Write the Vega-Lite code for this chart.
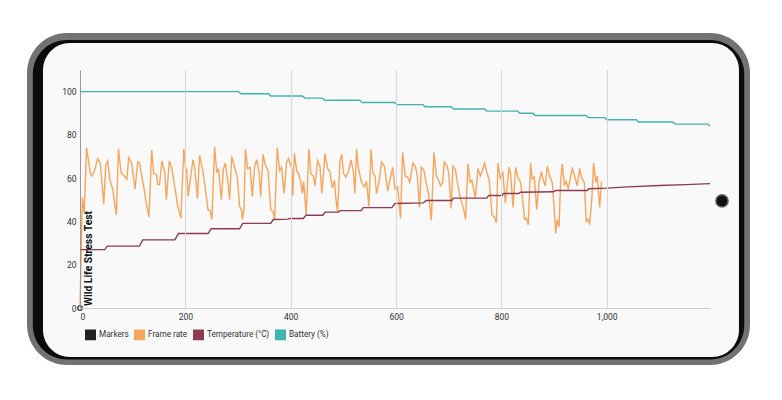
{
  "$schema": "https://vega.github.io/schema/vega-lite/v6.json",
  "width": 630,
  "height": 238,
  "autosize": {"type": "none"},
  "padding": {"left": 80, "top": 70, "right": 72, "bottom": 92},
  "background": "#ffffff",
  "config": {"view": {"stroke": null}, "font": "Roboto"},
  "datasets": {
    "series": [
      {"t":0,"v":0,"s":"Frame rate"},{"t":4.5,"v":51,"s":"Frame rate"},{"t":8,"v":44,"s":"Frame rate"},{"t":12.5,"v":74,"s":"Frame rate"},{"t":19.5,"v":62.5,"s":"Frame rate"},{"t":22,"v":61,"s":"Frame rate"},{"t":27,"v":63,"s":"Frame rate"},{"t":33.5,"v":69,"s":"Frame rate"},{"t":38.5,"v":67,"s":"Frame rate"},{"t":45,"v":48,"s":"Frame rate"},{"t":49,"v":66,"s":"Frame rate"},{"t":52.5,"v":68,"s":"Frame rate"},{"t":57,"v":59,"s":"Frame rate"},{"t":62,"v":55,"s":"Frame rate"},{"t":69,"v":43,"s":"Frame rate"},{"t":73,"v":73.5,"s":"Frame rate"},{"t":78,"v":62.5,"s":"Frame rate"},{"t":84,"v":61,"s":"Frame rate"},{"t":89,"v":59.5,"s":"Frame rate"},{"t":92.5,"v":69.5,"s":"Frame rate"},{"t":98,"v":67,"s":"Frame rate"},{"t":104.5,"v":55,"s":"Frame rate"},{"t":109.5,"v":67.5,"s":"Frame rate"},{"t":113,"v":67,"s":"Frame rate"},{"t":121,"v":56,"s":"Frame rate"},{"t":126,"v":48,"s":"Frame rate"},{"t":131,"v":42,"s":"Frame rate"},{"t":136,"v":73,"s":"Frame rate"},{"t":140,"v":62,"s":"Frame rate"},{"t":145,"v":62,"s":"Frame rate"},{"t":147.5,"v":57,"s":"Frame rate"},{"t":151,"v":57,"s":"Frame rate"},{"t":155.5,"v":68,"s":"Frame rate"},{"t":161,"v":62.5,"s":"Frame rate"},{"t":164,"v":50,"s":"Frame rate"},{"t":169.5,"v":68,"s":"Frame rate"},{"t":174,"v":65,"s":"Frame rate"},{"t":180,"v":56,"s":"Frame rate"},{"t":185.5,"v":47,"s":"Frame rate"},{"t":188,"v":45,"s":"Frame rate"},{"t":191.5,"v":41.5,"s":"Frame rate"},{"t":197,"v":73.5,"s":"Frame rate"},{"t":201,"v":63,"s":"Frame rate"},{"t":202.5,"v":64.5,"s":"Frame rate"},{"t":205,"v":51.5,"s":"Frame rate"},{"t":214.5,"v":68.5,"s":"Frame rate"},{"t":217.5,"v":65.5,"s":"Frame rate"},{"t":223,"v":50.5,"s":"Frame rate"},{"t":227,"v":70.5,"s":"Frame rate"},{"t":233.5,"v":63,"s":"Frame rate"},{"t":237.5,"v":56,"s":"Frame rate"},{"t":243,"v":45.5,"s":"Frame rate"},{"t":247,"v":45,"s":"Frame rate"},{"t":250.5,"v":41,"s":"Frame rate"},{"t":255.5,"v":74.5,"s":"Frame rate"},{"t":259.5,"v":63,"s":"Frame rate"},{"t":263,"v":64,"s":"Frame rate"},{"t":268.5,"v":50,"s":"Frame rate"},{"t":272,"v":64,"s":"Frame rate"},{"t":276,"v":67,"s":"Frame rate"},{"t":281,"v":58,"s":"Frame rate"},{"t":284,"v":50,"s":"Frame rate"},{"t":288,"v":70,"s":"Frame rate"},{"t":293.5,"v":65,"s":"Frame rate"},{"t":299,"v":60,"s":"Frame rate"},{"t":303,"v":47,"s":"Frame rate"},{"t":306.5,"v":45.5,"s":"Frame rate"},{"t":308,"v":41,"s":"Frame rate"},{"t":311.5,"v":45.5,"s":"Frame rate"},{"t":314,"v":73.5,"s":"Frame rate"},{"t":318,"v":64.5,"s":"Frame rate"},{"t":323,"v":65,"s":"Frame rate"},{"t":327,"v":51.5,"s":"Frame rate"},{"t":331.5,"v":65.5,"s":"Frame rate"},{"t":335.5,"v":68.5,"s":"Frame rate"},{"t":340,"v":62.5,"s":"Frame rate"},{"t":343,"v":51.5,"s":"Frame rate"},{"t":347.5,"v":71,"s":"Frame rate"},{"t":352,"v":66,"s":"Frame rate"},{"t":357,"v":63.5,"s":"Frame rate"},{"t":362,"v":45.5,"s":"Frame rate"},{"t":366.5,"v":44.5,"s":"Frame rate"},{"t":369.5,"v":41,"s":"Frame rate"},{"t":374.5,"v":74,"s":"Frame rate"},{"t":379,"v":63.5,"s":"Frame rate"},{"t":382.5,"v":65,"s":"Frame rate"},{"t":387.5,"v":53,"s":"Frame rate"},{"t":392,"v":67.5,"s":"Frame rate"},{"t":396,"v":69,"s":"Frame rate"},{"t":402,"v":64.5,"s":"Frame rate"},{"t":404,"v":52,"s":"Frame rate"},{"t":407,"v":71.5,"s":"Frame rate"},{"t":411.5,"v":63,"s":"Frame rate"},{"t":414.5,"v":62.5,"s":"Frame rate"},{"t":419.5,"v":58,"s":"Frame rate"},{"t":422,"v":53,"s":"Frame rate"},{"t":424.5,"v":58.5,"s":"Frame rate"},{"t":429.5,"v":43,"s":"Frame rate"},{"t":434.5,"v":73.5,"s":"Frame rate"},{"t":438.5,"v":62,"s":"Frame rate"},{"t":443,"v":61,"s":"Frame rate"},{"t":446,"v":56.5,"s":"Frame rate"},{"t":451,"v":68,"s":"Frame rate"},{"t":455.5,"v":65.5,"s":"Frame rate"},{"t":459,"v":53,"s":"Frame rate"},{"t":462,"v":61,"s":"Frame rate"},{"t":465,"v":71.5,"s":"Frame rate"},{"t":470,"v":64.5,"s":"Frame rate"},{"t":474.5,"v":63,"s":"Frame rate"},{"t":479,"v":55.5,"s":"Frame rate"},{"t":483,"v":59,"s":"Frame rate"},{"t":486,"v":50,"s":"Frame rate"},{"t":489,"v":44.5,"s":"Frame rate"},{"t":493.5,"v":68,"s":"Frame rate"},{"t":497,"v":71,"s":"Frame rate"},{"t":500,"v":62.5,"s":"Frame rate"},{"t":504.5,"v":60.5,"s":"Frame rate"},{"t":509.5,"v":63,"s":"Frame rate"},{"t":514.5,"v":68.5,"s":"Frame rate"},{"t":519,"v":63,"s":"Frame rate"},{"t":522,"v":53,"s":"Frame rate"},{"t":525,"v":73.5,"s":"Frame rate"},{"t":528.5,"v":64.5,"s":"Frame rate"},{"t":534.5,"v":58,"s":"Frame rate"},{"t":540,"v":56,"s":"Frame rate"},{"t":544,"v":58.5,"s":"Frame rate"},{"t":548.5,"v":47,"s":"Frame rate"},{"t":552.5,"v":73.5,"s":"Frame rate"},{"t":556,"v":62.5,"s":"Frame rate"},{"t":560,"v":61,"s":"Frame rate"},{"t":563,"v":53,"s":"Frame rate"},{"t":567.5,"v":58,"s":"Frame rate"},{"t":572.5,"v":67.5,"s":"Frame rate"},{"t":578,"v":65.5,"s":"Frame rate"},{"t":584,"v":54,"s":"Frame rate"},{"t":588.5,"v":59.5,"s":"Frame rate"},{"t":593.5,"v":65,"s":"Frame rate"},{"t":598,"v":55,"s":"Frame rate"},{"t":603,"v":56,"s":"Frame rate"},{"t":606,"v":48,"s":"Frame rate"},{"t":608.5,"v":41.5,"s":"Frame rate"},{"t":612.5,"v":72,"s":"Frame rate"},{"t":617.5,"v":61,"s":"Frame rate"},{"t":622,"v":60.5,"s":"Frame rate"},{"t":626,"v":58,"s":"Frame rate"},{"t":632,"v":67,"s":"Frame rate"},{"t":636.5,"v":65.5,"s":"Frame rate"},{"t":640.5,"v":61,"s":"Frame rate"},{"t":644.5,"v":46.5,"s":"Frame rate"},{"t":648,"v":65,"s":"Frame rate"},{"t":652.5,"v":64,"s":"Frame rate"},{"t":657,"v":58,"s":"Frame rate"},{"t":662,"v":52.5,"s":"Frame rate"},{"t":667,"v":40.5,"s":"Frame rate"},{"t":672,"v":72,"s":"Frame rate"},{"t":676.5,"v":61,"s":"Frame rate"},{"t":681,"v":59,"s":"Frame rate"},{"t":684.5,"v":56.5,"s":"Frame rate"},{"t":688.5,"v":58,"s":"Frame rate"},{"t":691.5,"v":67.5,"s":"Frame rate"},{"t":697,"v":65.5,"s":"Frame rate"},{"t":700,"v":62.5,"s":"Frame rate"},{"t":704.5,"v":46,"s":"Frame rate"},{"t":708,"v":65.5,"s":"Frame rate"},{"t":712.5,"v":64,"s":"Frame rate"},{"t":716.5,"v":58,"s":"Frame rate"},{"t":722,"v":51,"s":"Frame rate"},{"t":728.5,"v":45.5,"s":"Frame rate"},{"t":732,"v":41,"s":"Frame rate"},{"t":736.5,"v":66.5,"s":"Frame rate"},{"t":741,"v":58,"s":"Frame rate"},{"t":744,"v":59,"s":"Frame rate"},{"t":750.5,"v":51,"s":"Frame rate"},{"t":755.5,"v":64.5,"s":"Frame rate"},{"t":760,"v":61,"s":"Frame rate"},{"t":763,"v":63,"s":"Frame rate"},{"t":768,"v":67,"s":"Frame rate"},{"t":772.5,"v":62.5,"s":"Frame rate"},{"t":777,"v":59,"s":"Frame rate"},{"t":782,"v":43,"s":"Frame rate"},{"t":787,"v":42,"s":"Frame rate"},{"t":790.5,"v":39.5,"s":"Frame rate"},{"t":793.5,"v":67,"s":"Frame rate"},{"t":798,"v":59.5,"s":"Frame rate"},{"t":802.5,"v":63,"s":"Frame rate"},{"t":807.5,"v":48.5,"s":"Frame rate"},{"t":814.5,"v":65,"s":"Frame rate"},{"t":817.5,"v":62,"s":"Frame rate"},{"t":822,"v":46.5,"s":"Frame rate"},{"t":827,"v":65,"s":"Frame rate"},{"t":832,"v":60,"s":"Frame rate"},{"t":836.5,"v":58,"s":"Frame rate"},{"t":841,"v":48.5,"s":"Frame rate"},{"t":844,"v":41,"s":"Frame rate"},{"t":847.5,"v":41.5,"s":"Frame rate"},{"t":851,"v":38.5,"s":"Frame rate"},{"t":855.5,"v":67,"s":"Frame rate"},{"t":858.5,"v":59.5,"s":"Frame rate"},{"t":862.5,"v":60.5,"s":"Frame rate"},{"t":867,"v":45.5,"s":"Frame rate"},{"t":871.5,"v":58,"s":"Frame rate"},{"t":876,"v":63,"s":"Frame rate"},{"t":879,"v":59.5,"s":"Frame rate"},{"t":883,"v":56.5,"s":"Frame rate"},{"t":887,"v":65.5,"s":"Frame rate"},{"t":891.5,"v":61,"s":"Frame rate"},{"t":896.5,"v":58,"s":"Frame rate"},{"t":900,"v":47,"s":"Frame rate"},{"t":903,"v":34.5,"s":"Frame rate"},{"t":906,"v":41,"s":"Frame rate"},{"t":909.5,"v":37.5,"s":"Frame rate"},{"t":912.5,"v":59,"s":"Frame rate"},{"t":915.5,"v":66.5,"s":"Frame rate"},{"t":919.5,"v":57,"s":"Frame rate"},{"t":923,"v":58.5,"s":"Frame rate"},{"t":927,"v":55,"s":"Frame rate"},{"t":931.5,"v":61,"s":"Frame rate"},{"t":934.5,"v":64.5,"s":"Frame rate"},{"t":939,"v":61,"s":"Frame rate"},{"t":944,"v":56.5,"s":"Frame rate"},{"t":948.5,"v":64.5,"s":"Frame rate"},{"t":952.5,"v":60,"s":"Frame rate"},{"t":957.5,"v":58,"s":"Frame rate"},{"t":961,"v":40,"s":"Frame rate"},{"t":965,"v":41,"s":"Frame rate"},{"t":967.5,"v":38.5,"s":"Frame rate"},{"t":971.5,"v":50,"s":"Frame rate"},{"t":975,"v":67,"s":"Frame rate"},{"t":979,"v":58,"s":"Frame rate"},{"t":982,"v":61,"s":"Frame rate"},{"t":986.5,"v":46.5,"s":"Frame rate"},{"t":990,"v":58.5,"s":"Frame rate"},
      {"t":0,"v":27,"s":"Temperature (°C)"},{"t":47,"v":27,"s":"Temperature (°C)"},{"t":52,"v":28.6,"s":"Temperature (°C)"},{"t":113,"v":28.6,"s":"Temperature (°C)"},{"t":119,"v":31.5,"s":"Temperature (°C)"},{"t":180,"v":31.5,"s":"Temperature (°C)"},{"t":187,"v":34.4,"s":"Temperature (°C)"},{"t":243,"v":34.4,"s":"Temperature (°C)"},{"t":249,"v":36.6,"s":"Temperature (°C)"},{"t":303,"v":36.6,"s":"Temperature (°C)"},{"t":309,"v":39.1,"s":"Temperature (°C)"},{"t":362,"v":39.1,"s":"Temperature (°C)"},{"t":367,"v":40.9,"s":"Temperature (°C)"},{"t":395,"v":41.1,"s":"Temperature (°C)"},{"t":398,"v":41.4,"s":"Temperature (°C)"},{"t":424,"v":41.4,"s":"Temperature (°C)"},{"t":429,"v":42.9,"s":"Temperature (°C)"},{"t":461,"v":42.9,"s":"Temperature (°C)"},{"t":465,"v":44.3,"s":"Temperature (°C)"},{"t":490,"v":44.3,"s":"Temperature (°C)"},{"t":494,"v":45,"s":"Temperature (°C)"},{"t":534,"v":45,"s":"Temperature (°C)"},{"t":538,"v":46.4,"s":"Temperature (°C)"},{"t":592,"v":46.4,"s":"Temperature (°C)"},{"t":598,"v":48.3,"s":"Temperature (°C)"},{"t":652,"v":48.6,"s":"Temperature (°C)"},{"t":657,"v":49.7,"s":"Temperature (°C)"},{"t":706,"v":49.7,"s":"Temperature (°C)"},{"t":709,"v":50.8,"s":"Temperature (°C)"},{"t":772,"v":50.8,"s":"Temperature (°C)"},{"t":776,"v":52,"s":"Temperature (°C)"},{"t":801,"v":52,"s":"Temperature (°C)"},{"t":804,"v":52.9,"s":"Temperature (°C)"},{"t":833,"v":52.9,"s":"Temperature (°C)"},{"t":836,"v":53.5,"s":"Temperature (°C)"},{"t":899,"v":53.7,"s":"Temperature (°C)"},{"t":903,"v":54.3,"s":"Temperature (°C)"},{"t":963,"v":54.3,"s":"Temperature (°C)"},{"t":966,"v":55.1,"s":"Temperature (°C)"},{"t":1000,"v":55.4,"s":"Temperature (°C)"},{"t":1040,"v":56,"s":"Temperature (°C)"},{"t":1100,"v":56.6,"s":"Temperature (°C)"},{"t":1150,"v":57,"s":"Temperature (°C)"},{"t":1196,"v":57.5,"s":"Temperature (°C)"},
      {"t":0,"v":100,"s":"Battery (%)"},{"t":301,"v":100,"s":"Battery (%)"},{"t":305,"v":99,"s":"Battery (%)"},{"t":358,"v":99,"s":"Battery (%)"},{"t":362,"v":98,"s":"Battery (%)"},{"t":422,"v":98,"s":"Battery (%)"},{"t":427,"v":97,"s":"Battery (%)"},{"t":460,"v":97,"s":"Battery (%)"},{"t":465,"v":96,"s":"Battery (%)"},{"t":531,"v":96,"s":"Battery (%)"},{"t":536,"v":95,"s":"Battery (%)"},{"t":597,"v":95,"s":"Battery (%)"},{"t":602,"v":94,"s":"Battery (%)"},{"t":651,"v":94,"s":"Battery (%)"},{"t":655,"v":93,"s":"Battery (%)"},{"t":705,"v":93,"s":"Battery (%)"},{"t":709,"v":92,"s":"Battery (%)"},{"t":768,"v":92,"s":"Battery (%)"},{"t":772,"v":91,"s":"Battery (%)"},{"t":831,"v":91,"s":"Battery (%)"},{"t":835,"v":90,"s":"Battery (%)"},{"t":860,"v":90,"s":"Battery (%)"},{"t":864,"v":89,"s":"Battery (%)"},{"t":961,"v":89,"s":"Battery (%)"},{"t":965,"v":88,"s":"Battery (%)"},{"t":996,"v":88,"s":"Battery (%)"},{"t":1000,"v":87,"s":"Battery (%)"},{"t":1056,"v":87,"s":"Battery (%)"},{"t":1060,"v":86,"s":"Battery (%)"},{"t":1125,"v":86,"s":"Battery (%)"},{"t":1130,"v":85,"s":"Battery (%)"},{"t":1192,"v":85,"s":"Battery (%)"},{"t":1196,"v":84,"s":"Battery (%)"}
    ],
    "markers": [{"t": 0, "v": 0, "label": "Wild Life Stress Test"}]
  },
  "layer": [
    {
      "data": {"values": [{}]},
      "mark": {"type": "rect", "fill": "#727272", "cornerRadius": 40},
      "encoding": {"x": {"datum": -100.6, "type": "quantitative"}, "x2": {"datum": 1271.9}, "y": {"datum": 127.1, "type": "quantitative"}, "y2": {"datum": -26.3}}
    },
    {
      "data": {"values": [{}]},
      "mark": {"type": "rect", "fill": "#0c0c0c", "cornerRadius": 34},
      "encoding": {"x": {"datum": -89.6, "type": "quantitative"}, "x2": {"datum": 1261}, "y": {"datum": 123.9, "type": "quantitative"}, "y2": {"datum": -23.8}}
    },
    {
      "data": {"values": [{}]},
      "mark": {"type": "rect", "fill": "#f9f9f9", "cornerRadius": 27},
      "encoding": {"x": {"datum": -70.2, "type": "quantitative"}, "x2": {"datum": 1251}, "y": {"datum": 122.5, "type": "quantitative"}, "y2": {"datum": -22.6}}
    },
    {
      "data": {"values": [{}]},
      "mark": {"type": "point", "filled": true, "fill": "#111111", "stroke": "#666666", "strokeWidth": 1.5, "size": 150, "opacity": 1},
      "encoding": {"x": {"datum": 1218.8, "type": "quantitative"}, "y": {"datum": 49.5, "type": "quantitative"}}
    },
    {
      "data": {"name": "series"},
      "mark": {"type": "line", "strokeWidth": 1.4, "interpolate": "linear"},
      "encoding": {
        "x": {"field": "t", "type": "quantitative", "scale": {"domain": [0, 1196], "nice": false, "zero": false},
          "axis": {"title": null, "values": [0, 200, 400, 600, 800, 1000], "format": ",.0f", "grid": true, "gridColor": "#d6d6d6", "gridWidth": 1, "domainColor": "#cfcfcf", "ticks": false, "labelFont": "Roboto", "labelFontSize": 8.5, "labelColor": "#333333", "labelPadding": 4, "zindex": 1}},
        "y": {"field": "v", "type": "quantitative", "scale": {"domain": [0, 110], "nice": false},
          "axis": {"title": null, "values": [0, 20, 40, 60, 80, 100], "grid": false, "domainColor": "#9a9a9a", "ticks": false, "labelFont": "Roboto", "labelFontSize": 8.5, "labelColor": "#333333", "labelPadding": 4, "zindex": 1}},
        "color": {"field": "s", "type": "nominal",
          "scale": {"domain": ["Markers", "Frame rate", "Temperature (°C)", "Battery (%)"], "range": ["#222222", "#f6a55c", "#8d3b50", "#40b5b0"]},
          "legend": {"title": null, "orient": "bottom", "direction": "horizontal", "symbolType": "square", "symbolSize": 90, "labelFont": "Roboto", "labelFontSize": 8.2, "labelColor": "#333333", "columnPadding": 2, "labelOffset": 3, "offset": 3, "padding": 5, "zindex": 1,
            "encode": {"symbols": {"update": {"fill": {"scale": "color", "field": "value"}, "stroke": {"value": "transparent"}, "shape": {"value": "square"}, "opacity": {"value": 1}}}}}
        },
        "detail": {"field": "s"}
      }
    },
    {
      "data": {"name": "markers"},
      "mark": {"type": "text", "angle": 270, "align": "left", "baseline": "top", "font": "Roboto", "fontWeight": "bold", "fontSize": 10.3, "color": "#111111", "dx": 2, "dy": 4},
      "encoding": {"x": {"field": "t", "type": "quantitative"}, "y": {"field": "v", "type": "quantitative"}, "text": {"field": "label"}}
    },
    {
      "data": {"name": "markers"},
      "mark": {"type": "point", "shape": "circle", "size": 20, "filled": false, "stroke": "#222222", "strokeWidth": 1.2, "fill": "#ffffff", "fillOpacity": 1, "opacity": 1},
      "encoding": {"x": {"field": "t", "type": "quantitative"}, "y": {"field": "v", "type": "quantitative"}}
    }
  ]
}
